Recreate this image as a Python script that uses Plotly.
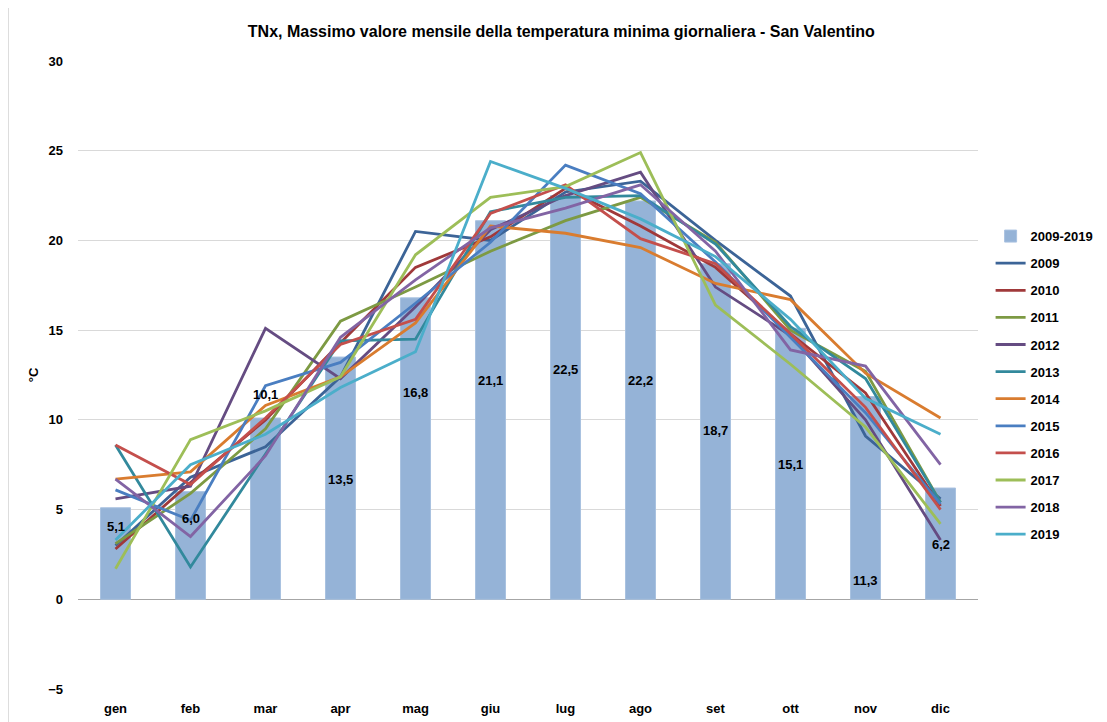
import plotly.graph_objects as go

months = ["gen", "feb", "mar", "apr", "mag", "giu", "lug", "ago", "set", "ott", "nov", "dic"]

mean_2009_2019 = [5.1, 6.0, 10.1, 13.5, 16.8, 21.1, 22.5, 22.2, 18.7, 15.1, 11.3, 6.2]

y2009 = [3.0, 6.8, 8.5, 12.4, 20.5, 20.0, 22.7, 23.3, 20.0, 16.9, 9.1, 5.6]
y2010 = [2.8, 6.5, 10.0, 14.3, 18.5, 20.2, 22.9, 20.8, 18.5, 14.8, 11.5, 5.2]
y2011 = [3.1, 5.9, 9.5, 15.5, 17.4, 19.4, 21.1, 22.4, 19.9, 15.0, 12.7, 5.4]
y2012 = [5.6, 6.3, 15.1, 12.3, 16.3, 20.6, 22.5, 23.8, 17.4, 14.7, 10.0, 3.3]
y2013 = [8.6, 1.8, 8.1, 14.4, 14.5, 21.6, 22.4, 22.5, 19.8, 15.2, 12.3, 5.4]
y2014 = [6.7, 7.1, 10.8, 12.4, 15.4, 20.8, 20.4, 19.6, 17.6, 16.7, 12.6, 10.1]
y2015 = [6.1, 4.4, 11.9, 13.2, 16.5, 19.9, 24.2, 22.6, 18.8, 14.6, 10.4, 5.3]
y2016 = [8.6, 6.4, 10.1, 14.2, 15.6, 21.5, 23.1, 20.1, 18.7, 14.8, 10.7, 5.0]
y2017 = [1.7, 8.9, 10.5, 12.4, 19.2, 22.4, 23.0, 24.9, 16.4, 13.1, 9.6, 4.2]
y2018 = [6.7, 3.5, 8.0, 14.6, 17.8, 20.7, 21.8, 23.1, 19.4, 13.9, 13.0, 7.5]
y2019 = [3.3, 7.5, 9.2, 11.8, 13.8, 24.4, 22.9, 21.2, 19.1, 15.6, 11.2, 9.2]

years = ["2009", "2010", "2011", "2012", "2013", "2014", "2015", "2016", "2017", "2018", "2019"]
series = [y2009, y2010, y2011, y2012, y2013, y2014, y2015, y2016, y2017, y2018, y2019]

# styling (not data)
colors = ["#3C6497", "#A0393A", "#7D9A43", "#654C82", "#32899C", "#D97C2F",
          "#4A7EC1", "#C44F4C", "#9DBE58", "#8264A4", "#4BAECA"]
label_y = [4.05, 4.5, 11.4, 6.7, 11.5, 12.2, 12.8, 12.2, 9.4, 7.5, 1.05, 3.05]

FONT = "Liberation Sans"

fig = go.Figure()
fig.add_trace(go.Bar(
    x=months, y=mean_2009_2019, name="2009-2019", width=0.4,
    marker=dict(color="#95B3D7", line=dict(color="#A9C2E0", width=1)),
    legendgroup="g0",
))
for i, (yr, vals) in enumerate(zip(years, series)):
    fig.add_trace(go.Scatter(
        x=months, y=vals, name=yr, mode="lines",
        line=dict(color=colors[i], width=2.8),
        legendgroup=f"g{i+1}",
    ))

for m, v, ly in zip(months, mean_2009_2019, label_y):
    fig.add_annotation(x=m, y=ly, text=f"{v:.1f}".replace(".", ","), showarrow=False,
                       font=dict(family=FONT, size=13, color="black", weight="bold"))

fig.update_layout(
    width=1120, height=722,
    margin=dict(l=70, r=150, t=53, b=41),
    paper_bgcolor="white", plot_bgcolor="white",
    font=dict(family=FONT, size=12, color="black"),
    title=dict(text="<b>TNx, Massimo valore mensile della temperatura minima giornaliera - San Valentino</b>",
               x=0.494, xanchor="center", y=0.967, yanchor="middle",
               font=dict(family=FONT, size=16, color="black")),
    bargap=0.6,
    legend=dict(x=1.014, y=0.745, xanchor="left", yanchor="top",
                font=dict(family=FONT, size=13, color="black", weight="bold"),
                tracegroupgap=7.2, bgcolor="rgba(0,0,0,0)", itemwidth=30),
    showlegend=True,
)
fig.update_xaxes(showgrid=False, showline=False, ticks="", ticklabelstandoff=10,
                 tickfont=dict(family=FONT, size=13, color="black", weight="bold"))
fig.update_yaxes(range=[-5, 30], dtick=5, showgrid=True, gridcolor="#D9D9D9", gridwidth=1,
                 zeroline=True, zerolinecolor="#A6A6A6", zerolinewidth=1,
                 showline=False, ticks="", ticklabelstandoff=14,
                 tickfont=dict(family=FONT, size=13, color="black", weight="bold"),
                 title=dict(text="<b>°C</b>", font=dict(family=FONT, size=13, color="black"), standoff=6))

# chart-area border
fig.add_shape(type="line", xref="paper", yref="paper", x0=-0.078, x1=-0.078, y0=-0.08, y1=1.1,
              line=dict(color="#8C8C8C", width=1))

fig.write_html("out.html")
